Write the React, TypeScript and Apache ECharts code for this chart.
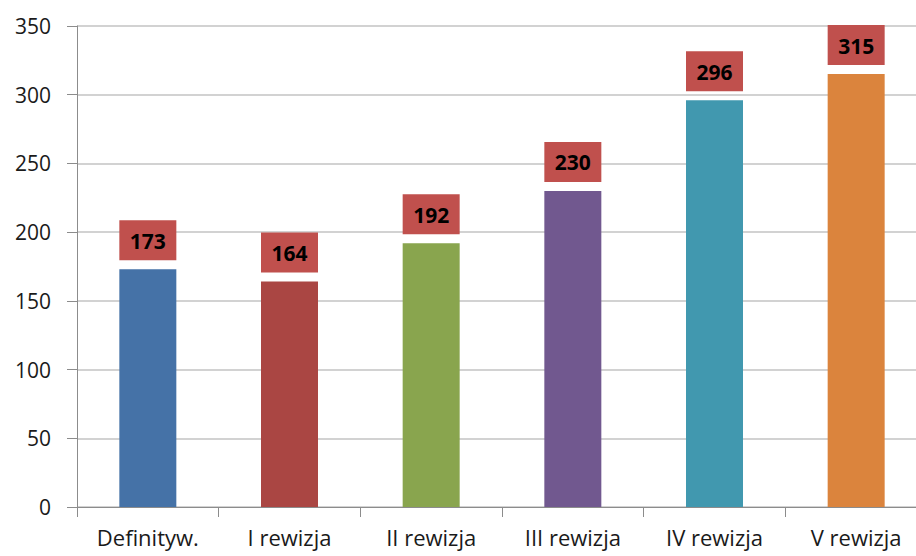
import React, { useEffect, useRef } from "react";
import * as echarts from "echarts";

const categories = ["Definityw.", "I rewizja", "II rewizja", "III rewizja", "IV rewizja", "V rewizja"];
const values = [173, 164, 192, 230, 296, 315];
const barColors = ["#4572A7", "#AA4643", "#89A54E", "#71588F", "#4198AF", "#DB843D"];
const yTicks = { min: 0, max: 350, interval: 50 };

export default function App() {
  const ref = useRef<HTMLDivElement>(null);
  useEffect(() => {
    if (!ref.current) return;
    const chart = echarts.init(ref.current, null, { renderer: "svg" });
    const font = "'Open Sans', 'Noto Sans', sans-serif";
    chart.setOption({
      animation: false,
      backgroundColor: "#ffffff",
      grid: { left: 77, right: 0, top: 26, bottom: 49, containLabel: false },
      xAxis: {
        type: "category",
        data: categories,
        axisLine: { lineStyle: { color: "#8c8c8c", width: 1 } },
        axisTick: { show: true, length: 10, alignWithLabel: false, lineStyle: { color: "#8c8c8c" } },
        axisLabel: { color: "#1a1a1a", fontSize: 22, fontFamily: font, margin: 19 },
      },
      yAxis: {
        type: "value",
        min: yTicks.min,
        max: yTicks.max,
        interval: yTicks.interval,
        axisLine: { show: true, lineStyle: { color: "#8c8c8c", width: 1 } },
        axisTick: { show: true, length: 10, lineStyle: { color: "#8c8c8c" } },
        axisLabel: { color: "#1a1a1a", fontSize: 21, fontFamily: font, margin: 26 },
        splitLine: { lineStyle: { color: "#d2d2d2", width: 2 } },
      },
      series: [
        {
          type: "bar",
          barWidth: 57,
          data: values.map((v, i) => ({ value: v, itemStyle: { color: barColors[i] } })),
          label: {
            show: true,
            position: "top",
            distance: 9,
            backgroundColor: "#C0504D",
            color: "#000000",
            fontWeight: "bold",
            fontSize: 21,
            fontFamily: font,
            width: 57,
            height: 25,
            lineHeight: 25,
            padding: [8, 0, 7, 0],
            align: "center",
          },
        },
      ],
    });
    return () => chart.dispose();
  }, []);
  return (
    <div style={{ width: 916, height: 556, position: "absolute", left: 0, top: 0, overflow: "hidden" }}>
      <div ref={ref} style={{ width: 927, height: 556 }} />
    </div>
  );
}
